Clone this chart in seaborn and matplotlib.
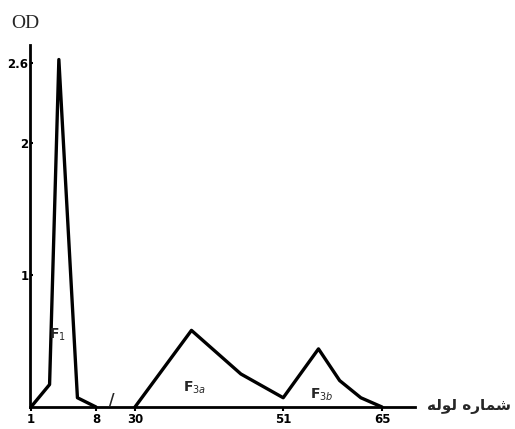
import numpy as np
import pandas as pd
import matplotlib
matplotlib.use("Agg")
import matplotlib.pyplot as plt
import seaborn as sns

# data
tubes_f1 = [1, 3, 4, 6, 8]
od_f1 = [0.0, 0.17, 2.63, 0.07, 0.0]
tubes_f3 = [30, 38, 45, 51, 56, 59, 62, 65]
od_f3 = [0.0, 0.58, 0.25, 0.07, 0.44, 0.2, 0.07, 0.0]

xticks = [1, 8, 30, 51, 65]
yticks = [1, 2, 2.6]
ytick_labels = ["1", "2", "2.6"]

# broken x axis: tubes 1-8 are stretched, 8-30 squeezed
bp_tube = [-30, 1, 8, 30, 65, 120]
bp_px = [31 - 31 * 9.3, 31, 96, 135, 382, 382 + 55 * 7.06]


def fwd(t):
    return np.interp(t, bp_tube, bp_px)


def inv(p):
    return np.interp(p, bp_px, bp_tube)


df = pd.DataFrame({
    "tube": tubes_f1 + tubes_f3,
    "od": od_f1 + od_f3,
    "seg": ["F1"] * len(tubes_f1) + ["F3"] * len(tubes_f3),
})

sns.set_style("ticks")
fig = plt.figure(figsize=(5.15, 4.29), dpi=100)
ax = fig.add_axes([30 / 515, 22 / 429, 385 / 515, 362 / 429])

sns.lineplot(data=df, x="tube", y="od", units="seg", estimator=None, sort=False,
             color="black", lw=2.4, ax=ax)

ax.set_xscale("function", functions=(fwd, inv))
ax.set_xlim(inv(30), inv(415))
ax.set_ylim(0, 2.74)

sns.despine(ax=ax)
for side in ["left", "bottom"]:
    ax.spines[side].set_linewidth(2)
    ax.spines[side].set_color("black")

ax.set_xticks(xticks)
ax.set_xticklabels([str(t) for t in xticks], fontsize=8.5, fontweight="bold")
ax.xaxis.set_minor_locator(matplotlib.ticker.NullLocator())
ax.set_yticks(yticks)
ax.set_yticklabels(ytick_labels, fontsize=8.5, fontweight="bold")
ax.tick_params(axis="x", length=3, width=1.5, pad=1, colors="black")
ax.tick_params(axis="y", length=2, width=1.5, pad=1, colors="black", direction="in")
ax.set_xlabel("")
ax.set_ylabel("")

# peak labels
ax.text(3.9, 0.52, "F$_1$", fontsize=10, fontweight="bold", ha="center")
ax.text(38.5, 0.12, "F$_{3a}$", fontsize=10, fontweight="bold", ha="center")
ax.text(56.4, 0.06, "F$_{3b}$", fontsize=10, fontweight="bold", ha="center")

# break mark on the axis between 8 and 30
ax.text(17, -0.01, "/", fontsize=11, fontweight="bold", ha="center", va="bottom")

ax.text(-0.05, 1.035, "OD", transform=ax.transAxes, fontsize=14,
        family="Liberation Serif", ha="left", va="bottom")
# "شماره لوله" shaped by hand (presentation forms, visual order)
fig.text(511 / 515, 1 - 407 / 429, "\ufeea\ufedf\ufeee\ufedf \ufee9\ufead\ufe8e\ufee4\ufeb7",
         fontsize=11, family="DejaVu Sans", fontweight="bold", ha="right", va="center")

fig.savefig("out.png", dpi=100)
